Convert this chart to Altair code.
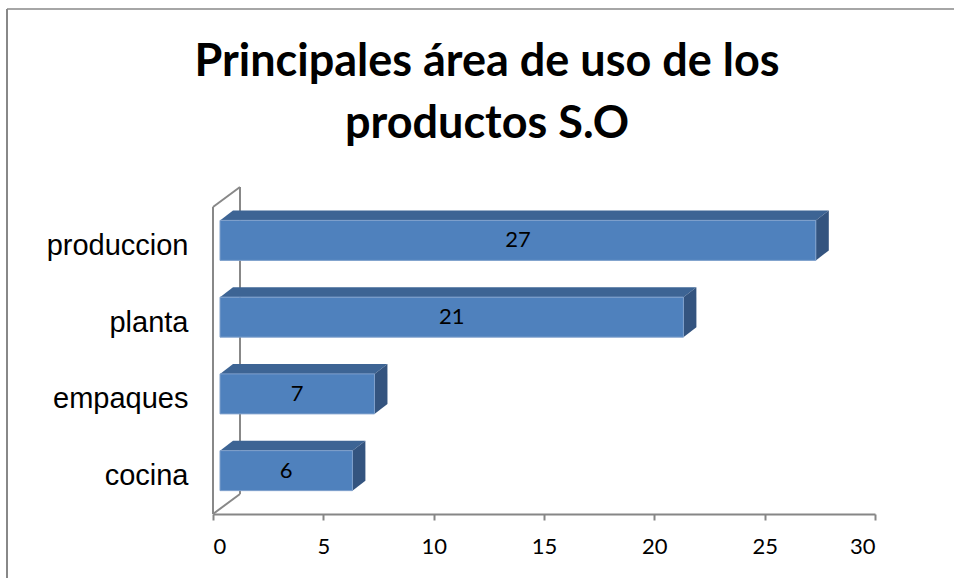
import json
import altair as alt
import pandas as pd

# ---- data ----
categories = ["produccion", "planta", "empaques", "cocina"]
values = [27, 21, 7, 6]
x_ticks = [0, 5, 10, 15, 20, 25, 30]
title_lines = ["Principales área de uso de los", "productos S.O"]

# ---- geometry / style constants (pixels) ----
W, H = 662, 307
XMAX = 30
SX = W / XMAX                 # px per x unit
U = H / len(categories)       # px per category slot
WALL_DX, WALL_DY = 27, 20     # depth of the 3D wall
FRONT_DX, FRONT_DY = 7, 5     # bar front face offset
BACK_DX, BACK_DY = 20, 15     # bar back face offset
HALF = 20                     # half bar thickness
FRONT_C, TOP_C, SIDE_C = "#4F81BD", "#3D6494", "#34547F"
GRID_C = "#888888"

front_rows, top_rows, side_rows, lab_rows = [], [], [], []
for i, (cat, v) in enumerate(zip(categories, values)):
    c = i + 0.5
    fx, bx = FRONT_DX / SX, BACK_DX / SX
    fy, by = FRONT_DY / U, BACK_DY / U
    h = HALF / U
    front_rows.append(dict(cat=cat, x=fx, x2=v + fx, y=c - h - fy, y2=c + h - fy))
    top_rows.append(dict(cat=cat, x=fx, x2=v + fx, y=c - h - fy))
    top_rows.append(dict(cat=cat, x=bx, x2=v + bx, y=c - h - by))
    side_rows.append(dict(cat=cat, x=v + fx, y=c - h - fy, y2=c + h - fy))
    side_rows.append(dict(cat=cat, x=v + bx, y=c - h - by, y2=c + h - by))
    lab_rows.append(dict(cat=cat, x=v / 2 + fx, y=c - fy, label=str(v)))

n = len(categories)
wx, wy = WALL_DX / SX, WALL_DY / U
wall_rows = [
    dict(x=0, x2=0, y=0, y2=n),
    dict(x=wx, x2=wx, y=-wy, y2=n - wy),
    dict(x=0, x2=wx, y=0, y2=-wy),
    dict(x=0, x2=wx, y=n, y2=n - wy),
]

xscale = alt.Scale(domain=[0, XMAX], nice=False, zero=False)
yscale = alt.Scale(domain=[n, 0], nice=False, zero=False)

label_expr = json.dumps(categories) + "[floor(datum.value)]"

wall = alt.Chart(pd.DataFrame(wall_rows)).mark_rule(
    color=GRID_C, strokeWidth=2
).encode(
    x=alt.X("x:Q", scale=xscale, axis=alt.Axis(
        values=x_ticks, grid=False, title=None,
        domainColor="#868686", domainWidth=2,
        tickColor="#868686", tickWidth=2, tickSize=6,
        labelFont="Lato", labelFontSize=22, labelColor="black",
        labelPadding=16)),
    x2="x2:Q",
    y=alt.Y("y:Q", scale=yscale, axis=alt.Axis(
        values=[i + 0.5 for i in range(n)], labelExpr=label_expr,
        grid=False, domain=False, ticks=False, title=None,
        labelFont="Liberation Sans", labelFontSize=29, labelColor="black",
        labelPadding=25)),
    y2="y2:Q",
)

top = alt.Chart(pd.DataFrame(top_rows)).mark_area(
    orient="horizontal", color=TOP_C
).encode(x="x:Q", x2="x2:Q", y="y:Q", detail="cat:N")

side = alt.Chart(pd.DataFrame(side_rows)).mark_area(
    orient="vertical", color=SIDE_C
).encode(x="x:Q", y="y:Q", y2="y2:Q", detail="cat:N")

front = alt.Chart(pd.DataFrame(front_rows)).mark_rect(
    color=FRONT_C, stroke="#7FA0CC", strokeWidth=1
).encode(x="x:Q", x2="x2:Q", y="y:Q", y2="y2:Q")

labels = alt.Chart(pd.DataFrame(lab_rows)).mark_text(
    font="Lato", fontSize=22, color="black"
).encode(x="x:Q", y="y:Q", text="label:N")

one = pd.DataFrame({"a": [0]})
border_left = alt.Chart(one).mark_rule(
    color=GRID_C, strokeWidth=2
).encode(x=alt.value(-206), y=alt.value(-198), y2=alt.value(380))
border_top = alt.Chart(one).mark_rule(
    color=GRID_C, strokeWidth=1.5
).encode(x=alt.value(-206), x2=alt.value(745), y=alt.value(-198))

title_layers = [
    alt.Chart(one).mark_text(
        font="Lato", fontSize=45, fontWeight="bold", color="black",
        align="center", baseline="middle"
    ).encode(x=alt.value(274), y=alt.value(-145 + 62 * k), text=alt.value(t))
    for k, t in enumerate(title_lines)
]

chart = alt.layer(
    border_left, border_top, wall, top, side, front, labels, *title_layers
).properties(
    width=W, height=H,
    autosize=alt.AutoSizeParams(type="none"),
    padding={"left": 213, "top": 207, "right": 79, "bottom": 64},
).configure(background="white").configure_view(stroke=None)

chart.save("out.html", embed_options={"renderer": "svg", "actions": False})
